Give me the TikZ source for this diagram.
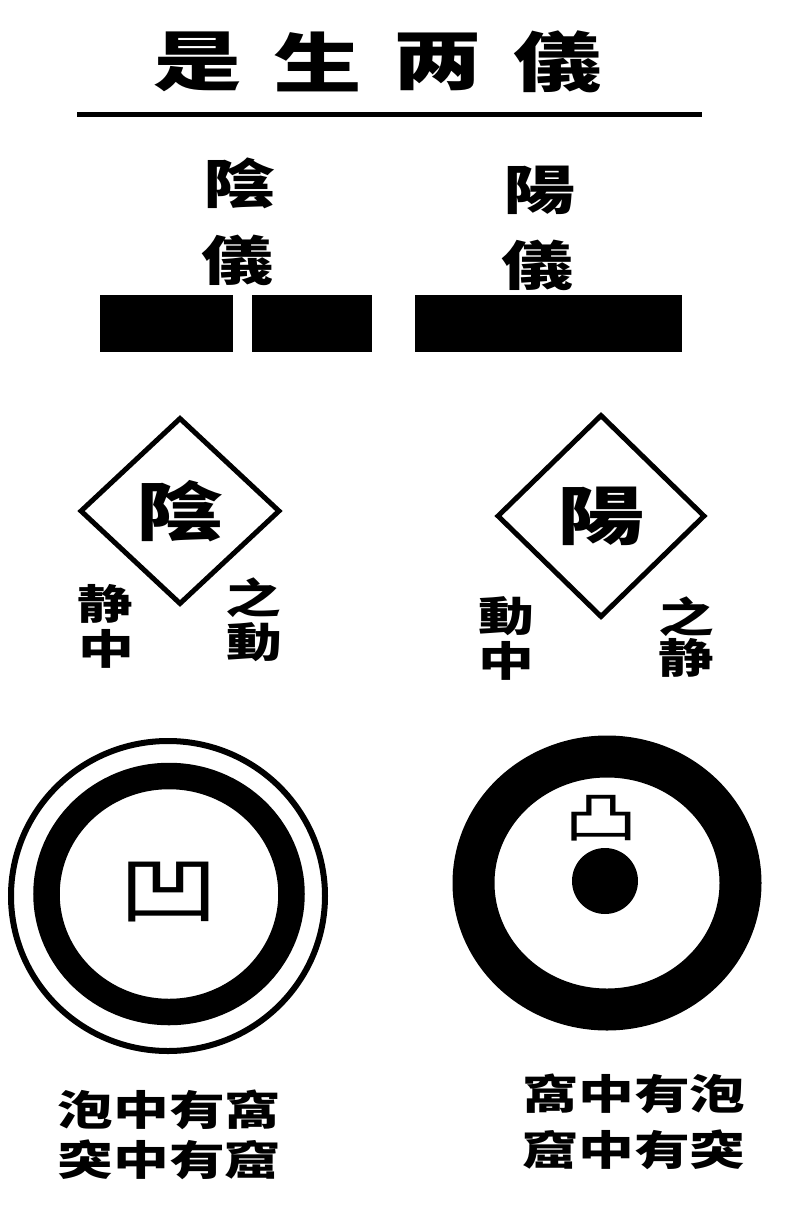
\documentclass[tikz,border=0pt]{standalone}
\usepackage{fontspec}
\usepackage{graphicx}
\usetikzlibrary{shapes.geometric,positioning}
\newfontfamily\cjk{Noto Sans CJK TC}
\newcommand{\widezi}[1]{\scalebox{1.36}[1]{#1}}

\begin{document}
\begin{tikzpicture}[x=1pt,y=-1pt,
      zi/.style={font={\cjk\bfseries\fontsize{#1}{#1}\selectfont}},
      zi/.default=41,
      thinzi/.style={font={\cjk\fontsize{#1}{#1}\selectfont}},
      gua/.style={diamond,draw,line width=5}]
      \tikzstyle{every node}=[inner sep=0pt,text=black]
      \useasboundingbox (0,0) rectangle (800,1231);
      \foreach \ch [count=\i from 0] in {是,生,两,儀}
        \node[zi=65] (Title\i) at (198+120*\i,62) {\widezi{\ch}};
      \draw[line width=5] (77,114.5) -- (702,114.5);
      \node[zi=53] (YinA) at (240,183) {\widezi{陰}};
      \node[zi=53] (YinB) at (238,260) {\widezi{儀}};
      \node[zi=53] (YangA) at (540,190) {\widezi{陽}};
      \node[zi=53] (YangB) at (538,265) {\widezi{儀}};
      \fill (100,295) rectangle (233,352);
      \fill (252,295) rectangle (372,352);
      \fill (415,295) rectangle (682,352);
      \node[gua,zi=64,minimum width=200,minimum height=187] (YinD) at (180,511) {\widezi{陰}};
      \node[gua,zi=64,minimum width=208,minimum height=203] (YangD) at (601,516) {\widezi{陽}};
      \node[zi] (YinL1) at (105,604) {\widezi{静}};
      \node[zi] (YinL2) at (106,649) {\widezi{中}};
      \node[zi] (YinR1) at (253,598) {\widezi{之}};
      \node[zi] (YinR2) at (254,642) {\widezi{動}};
      \node[zi] (YangL1) at (506,616) {\widezi{動}};
      \node[zi] (YangL2) at (506,661) {\widezi{中}};
      \node[zi] (YangR1) at (686,617) {\widezi{之}};
      \node[zi] (YangR2) at (686,658) {\widezi{静}};
      \draw[line width=6] (168,896) ellipse [x radius=157,y radius=155];
      \draw[line width=26.5] (169,894) ellipse [x radius=122.5,y radius=118];
      \node[thinzi=74] (Ao) at (169,892) {\widezi{凹}};
      \draw[line width=42] (607,883) ellipse [x radius=133.5,y radius=126.5];
      \fill (605,881) circle [radius=33];
      \node[thinzi=54] (Tu) at (601,818) {\widezi{凸}};
      \node[zi] (YinT1) at (169,1110) {\widezi{泡中有窩}};
      \node[zi] (YinT2) at (169,1160) {\widezi{突中有窟}};
      \node[zi] (YangT1) at (634,1094) {\widezi{窩中有泡}};
      \node[zi] (YangT2) at (634,1150) {\widezi{窟中有突}};
      % \fill (169,894) circle [radius=2];
\end{tikzpicture}
\end{document}
